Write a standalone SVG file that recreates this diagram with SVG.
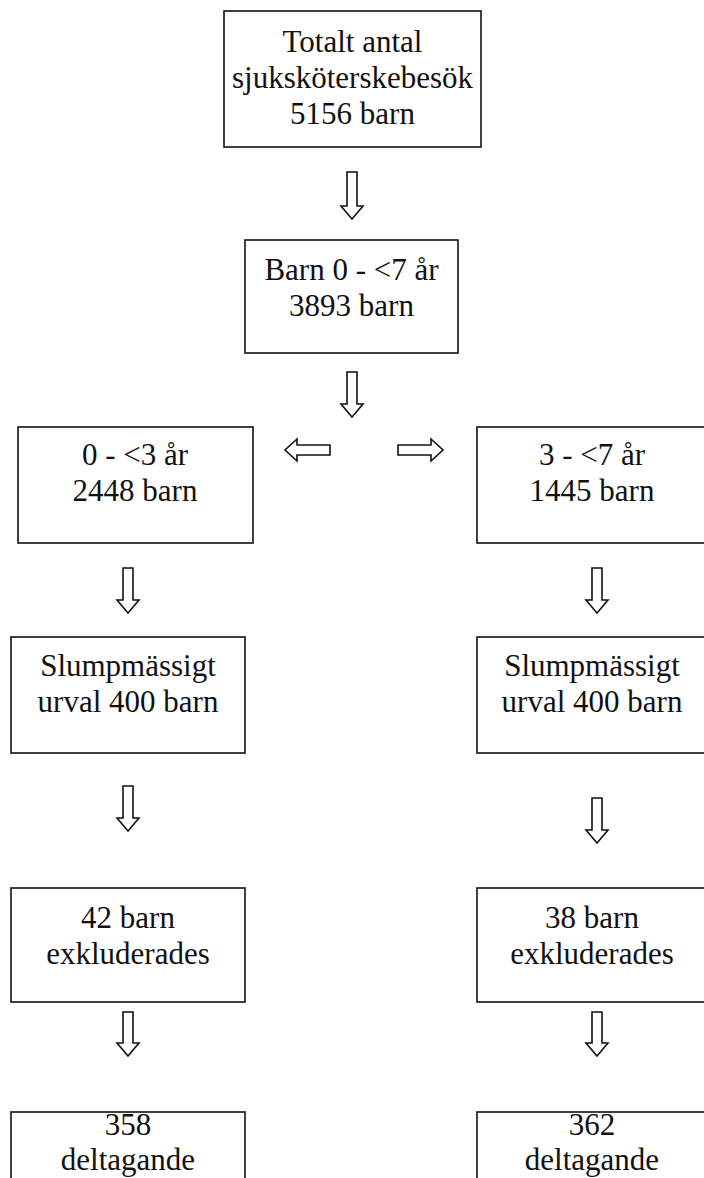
<svg xmlns="http://www.w3.org/2000/svg" width="704" height="1178" viewBox="0 0 704 1178">
<style>
.box{fill:#fff;stroke:#111;stroke-width:1.6}
.t{font-family:'Liberation Serif','DejaVu Serif',serif;font-size:31px;fill:#111;text-anchor:middle}
.arr{fill:#fff;stroke:#111;stroke-width:1.6;stroke-linejoin:miter}
</style>
<rect width="704" height="1178" fill="#fff"/>
<g id="n1"><rect class="box" x="224" y="11" width="257" height="136"/>
<text class="t" x="352.5" y="52">Totalt antal</text><text class="t" x="352.5" y="88">sjuksköterskebesök</text><text class="t" x="352.5" y="124">5156 barn</text></g>
<g id="n2"><rect class="box" x="245" y="240" width="213" height="113"/>
<text class="t" x="351.5" y="280">Barn 0 - &lt;7 år</text><text class="t" x="351.5" y="316">3893 barn</text></g>
<g id="n3"><rect class="box" x="18" y="427" width="235" height="116"/>
<text class="t" x="135" y="465">0 - &lt;3 år</text><text class="t" x="135" y="501">2448 barn</text></g>
<g id="n4"><rect class="box" x="477" y="427" width="230" height="116"/>
<text class="t" x="592" y="465">3 - &lt;7 år</text><text class="t" x="592" y="501">1445 barn</text></g>
<g id="n5"><rect class="box" x="11" y="637" width="234" height="116"/>
<text class="t" x="128" y="676">Slumpmässigt</text><text class="t" x="128" y="712">urval 400 barn</text></g>
<g id="n6"><rect class="box" x="477" y="637" width="230" height="116"/>
<text class="t" x="592" y="676">Slumpmässigt</text><text class="t" x="592" y="712">urval 400 barn</text></g>
<g id="n7"><rect class="box" x="11" y="888" width="234" height="114"/>
<text class="t" x="128" y="928">42 barn</text><text class="t" x="128" y="964">exkluderades</text></g>
<g id="n8"><rect class="box" x="477" y="888" width="230" height="114"/>
<text class="t" x="592" y="928">38 barn</text><text class="t" x="592" y="964">exkluderades</text></g>
<g id="n9"><rect class="box" x="11" y="1112" width="234" height="80"/>
<text class="t" x="128" y="1135">358</text><text class="t" x="128" y="1170">deltagande</text></g>
<g id="n10"><rect class="box" x="477" y="1112" width="230" height="80"/>
<text class="t" x="592" y="1135">362</text><text class="t" x="592" y="1170">deltagande</text></g>
<g id="connectors">
<path class="arr" d="M347,172H357V206H363L352,219L341,206H347Z"/>
<path class="arr" d="M347,372H357V404H363L352,417L341,404H347Z"/>
<path class="arr" d="M330,445V455H297V461L285,450L297,439V445Z"/>
<path class="arr" d="M398,445V455H431V461L443,450L431,439V445Z"/>
<path class="arr" d="M123,568H133V600H139L128,613L117,600H123Z"/>
<path class="arr" d="M592,568H602V600H608L597,613L586,600H592Z"/>
<path class="arr" d="M123,786H133V818H139L128,831L117,818H123Z"/>
<path class="arr" d="M592,798H602V830H608L597,843L586,830H592Z"/>
<path class="arr" d="M123,1012H133V1043H139L128,1056L117,1043H123Z"/>
<path class="arr" d="M592,1012H602V1043H608L597,1056L586,1043H592Z"/>
</g>
</svg>
